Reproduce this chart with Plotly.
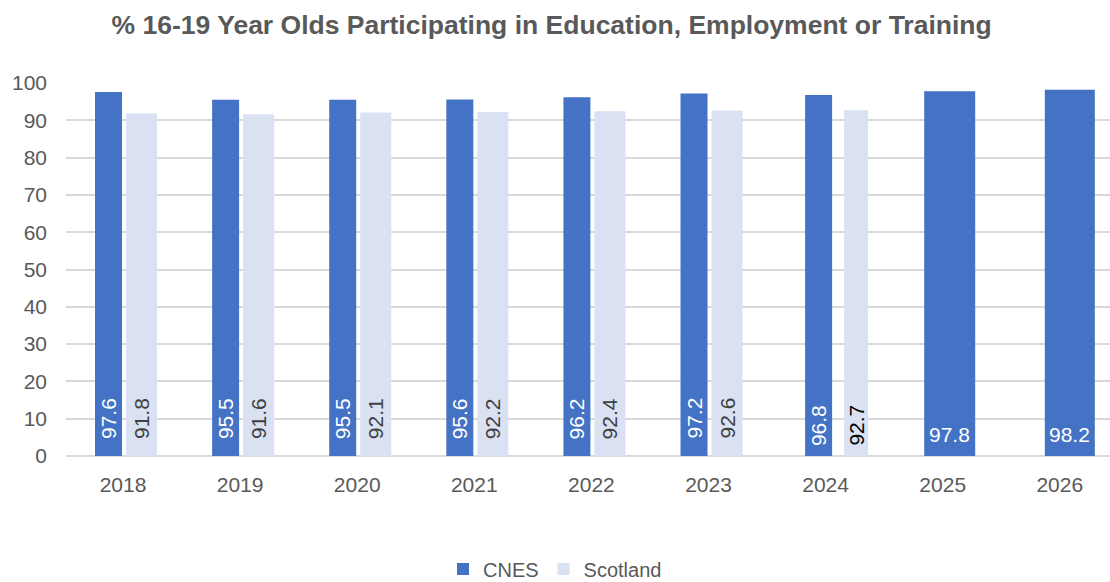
import plotly.graph_objects as go

# ---- data ----
years = ["2018", "2019", "2020", "2021", "2022", "2023", "2024", "2025", "2026"]
cnes = [97.6, 95.5, 95.5, 95.6, 96.2, 97.2, 96.8, 97.8, 98.2]
scotland = [91.8, 91.6, 92.1, 92.2, 92.4, 92.6, 92.7, None, None]
y_ticks = [0, 10, 20, 30, 40, 50, 60, 70, 80, 90, 100]

# ---- styles (bar geometry in category units) ----
cnes_offset = [-0.239] * 6 + [-0.175, -0.158, -0.128]
cnes_width = [0.2306] * 7 + [0.4355, 0.427]
scot_offset = [0.0256] * 6 + [0.158, 0.0, 0.0]
scot_width = [0.265] * 6 + [0.205, 0.0, 0.0]
label_shift = [15] * 6 + [8, 8, 8]
scot_label_colors = ["#404040"] * 6 + ["#000000", "#000000", "#000000"]

CNES_COLOR = "#4472C4"
SCOT_COLOR = "#DAE1F3"
TEXT_GREY = "#595959"
FONT = "Liberation Sans"

xs = list(range(len(years)))

fig = go.Figure()
fig.add_trace(go.Bar(
    x=xs, y=cnes, name="CNES", marker=dict(color=CNES_COLOR, line=dict(width=0)),
    offset=cnes_offset, width=cnes_width, hoverinfo="skip",
))
fig.add_trace(go.Bar(
    x=xs, y=scotland, name="Scotland", marker=dict(color=SCOT_COLOR, line=dict(width=0)),
    offset=scot_offset, width=scot_width, hoverinfo="skip",
))

annotations = []
for i, yr in enumerate(years):
    horizontal = scotland[i] is None
    cx = xs[i] + cnes_offset[i] + cnes_width[i] / 2
    annotations.append(dict(
        x=cx, y=0, xref="x", yref="y", text=f"{cnes[i]:.1f}", showarrow=False,
        textangle=0 if horizontal else -90, xanchor="center", yanchor="bottom",
        yshift=label_shift[i], font=dict(family=FONT, size=21, color="#FFFFFF"),
    ))
    if scotland[i] is not None:
        sx = xs[i] + scot_offset[i] + scot_width[i] / 2
        annotations.append(dict(
            x=sx, y=0, xref="x", yref="y", text=f"{scotland[i]:.1f}", showarrow=False,
            textangle=-90, xanchor="center", yanchor="bottom",
            yshift=label_shift[i], font=dict(family=FONT, size=21, color=scot_label_colors[i]),
        ))

fig.update_layout(
    width=1110, height=582,
    margin=dict(l=66, r=0, t=83, b=126, pad=0),
    paper_bgcolor="#FFFFFF", plot_bgcolor="#FFFFFF",
    barmode="overlay",
    title=dict(
        text="<b>% 16-19 Year Olds Participating in Education, Employment or Training</b>",
        x=0.497, xref="container", xanchor="center",
        y=1 - 25 / 582, yref="container", yanchor="middle",
        font=dict(family=FONT, size=26.5, color=TEXT_GREY),
    ),
    xaxis=dict(
        range=[-0.4868, 8.4287], tickmode="array", tickvals=xs, ticktext=years,
        showgrid=False, zeroline=False, showline=False, ticks="",
        tickfont=dict(family=FONT, size=21, color=TEXT_GREY),
        ticklabelstandoff=14,
    ),
    yaxis=dict(
        range=[0, 100], tickmode="array", tickvals=y_ticks,
        showgrid=True, gridcolor="#D9D9D9", gridwidth=1.5,
        zeroline=True, zerolinecolor="#D9D9D9", zerolinewidth=2,
        showline=False, ticks="",
        tickfont=dict(family=FONT, size=21, color=TEXT_GREY),
        ticklabelstandoff=18,
    ),
    legend=dict(
        orientation="h", xref="container", yref="container",
        x=0.5, xanchor="center", y=1 - 569 / 582, yanchor="middle",
        font=dict(family=FONT, size=20, color=TEXT_GREY),
        bgcolor="rgba(0,0,0,0)",
        traceorder="normal",
    ),
    annotations=annotations,
    showlegend=True,
)

fig.write_html("out.html")
